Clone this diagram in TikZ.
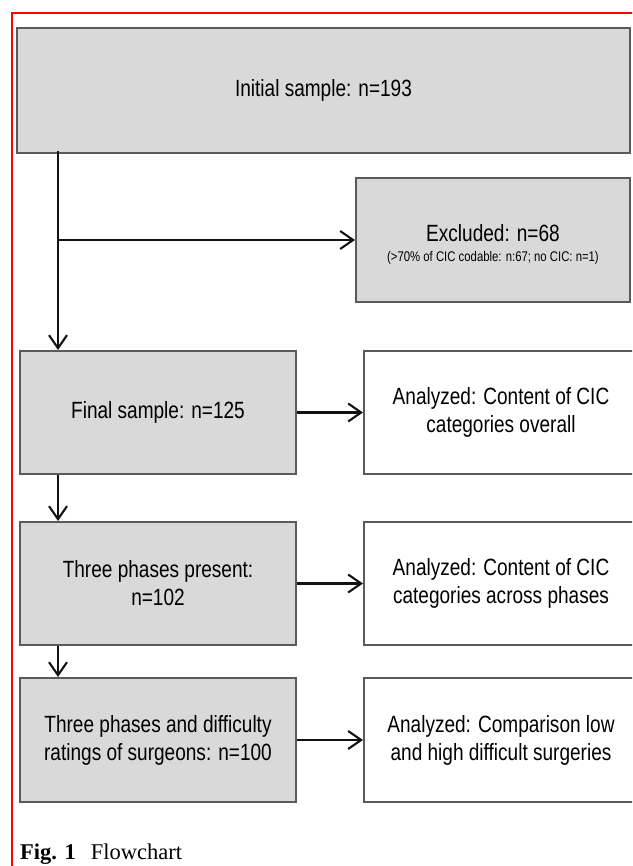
\documentclass[tikz,border=0pt]{standalone}
\usepackage{fontspec}
\setmainfont{Liberation Serif}
\newfontfamily\nar[FakeStretch=0.81]{Liberation Sans}
\usetikzlibrary{arrows.meta}
\definecolor{boxgray}{HTML}{D9D9D9}
\definecolor{edgegray}{HTML}{5A5A5A}
\definecolor{framered}{HTML}{FF0000}
\tikzset{
  graybox/.style={draw=edgegray, line width=2pt, fill=boxgray, inner sep=0pt, align=center,
    font=\nar\fontsize{23.5}{28}\selectfont},
  whitebox/.style={graybox, fill=white},
  flowarrow/.style={draw=black!93, line width=2.1pt, -{Straight Barb[length=13pt,width=18pt,line width=2.1pt]}},
  flowline/.style={draw=black!93, line width=2.1pt},
  txt/.style={inner sep=0pt, align=center}
}
\begin{document}
\begin{tikzpicture}[x=1pt,y=-1pt]
\useasboundingbox (0,0) rectangle (632,866);
\clip (0,0) rectangle (632,866);
% red frame
\draw[framered, line width=2pt] (12,866) -- (12,13) -- (640,13);
% boxes
\node[graybox, minimum width=613pt, minimum height=125pt] (init) at (323.5,90.5) {Initial sample: n=193};
\node[graybox, minimum width=274pt, minimum height=124pt] (excl) at (493,240) {};
\node[txt, font=\nar\fontsize{23.5}{28}\selectfont] (excltext) at (493,233) {Excluded: n=68};
\node[txt, font=\nar\fontsize{14}{16}\selectfont] (exclsub) at (493,258) {(>70\% of CIC codable: n:67; no CIC: n=1)};
\node[graybox, minimum width=276pt, minimum height=123pt] (final) at (158,412.5) {Final sample: n=125};
\node[whitebox, minimum width=274pt, minimum height=123pt] (res1) at (501,412.5) {Analyzed: Content of CIC\\categories overall};
\node[graybox, minimum width=276pt, minimum height=123pt] (three) at (158,583.5) {Three phases present:\\n=102};
\node[whitebox, minimum width=274pt, minimum height=123pt] (res2) at (501,583.5) {Analyzed: Content of CIC\\categories across phases};
\node[graybox, minimum width=276pt, minimum height=124pt] (diff) at (158,740) {Three phases and difficulty\\ratings of surgeons: n=100};
\node[whitebox, minimum width=274pt, minimum height=124pt] (res3) at (501,740) {Analyzed: Comparison low\\and high difficult surgeries};
% connectors
\coordinate (top) at (58,151);
\coordinate (branch) at (58,240);
\draw[flowline] (top) -- (branch);
\draw[flowarrow] (branch) -- (final.north -| branch);
\draw[flowarrow] (branch) -- (excl.west);
\draw[flowarrow] (final.east) -- (res1.west);
\draw[flowarrow] (three.east) -- (res2.west);
\draw[flowarrow] (diff.east) -- (res3.west);
\draw[flowarrow] (final.south -| branch) -- (three.north -| branch);
\draw[flowarrow] (three.south -| branch) -- (diff.north -| branch);
% caption
\node[inner sep=0pt, anchor=base west, font=\fontsize{22.5}{27}\selectfont] (cap) at (20,859) {\textbf{Fig. 1}\hspace{15pt}Flowchart};
\end{tikzpicture}
\end{document}
